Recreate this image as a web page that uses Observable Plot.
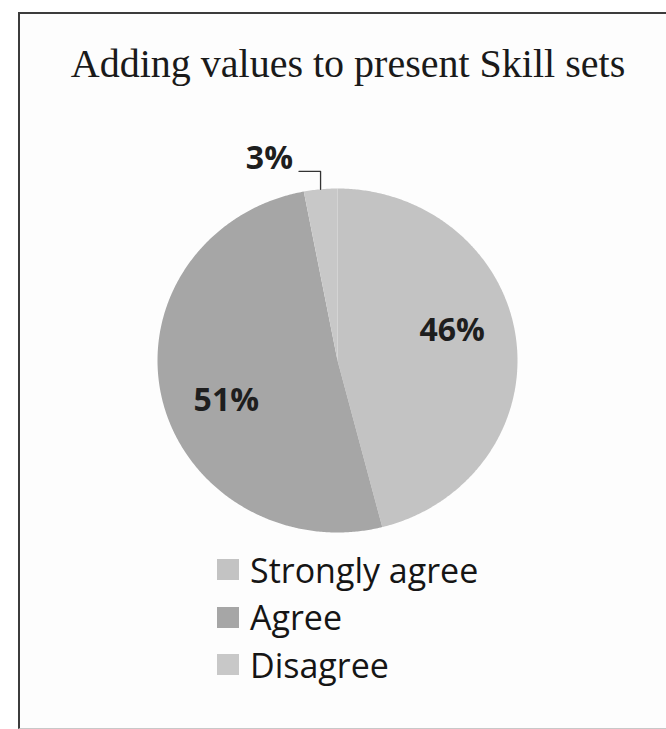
<!DOCTYPE html>
<html><head><meta charset="utf-8">
<script src="https://cdn.jsdelivr.net/npm/d3@7"></script>
<script src="https://cdn.jsdelivr.net/npm/@observablehq/plot@0.6"></script>
<style>
html,body{margin:0;padding:0;background:#fff;width:666px;height:729px;overflow:hidden;position:relative}
#frame{position:absolute;left:18px;top:12px;width:700px;height:714px;border-left:2px solid #3c3c3c;border-top:2px solid #3c3c3c;border-bottom:1px solid #c8c8c8;background:#fdfdfd}
#title{position:absolute;left:0;top:44px;width:696px;text-align:center;font-family:"Liberation Serif","Times New Roman",serif;font-size:40px;line-height:40px;color:#1a1a1a;white-space:nowrap}
#chart{position:absolute;left:0;top:140px}
#legend{position:absolute;left:217px;top:546px;font-family:"Open Sans",sans-serif;font-size:34px;color:#151515}
.row{display:flex;align-items:center;height:47.5px;white-space:nowrap}
.sw{width:22px;height:21px;margin-right:11px;flex:none}
</style></head><body>
<div id="frame"></div>
<div id="title"></div>
<div id="chart"></div>
<div id="legend"></div>
<script>
const titleText = "Adding values to present Skill sets";
const categories = ["Strongly agree", "Agree", "Disagree"];
const percents = [46, 51, 3];
const labels = ["46%", "51%", "3%"];
const colors = ["#c3c3c3", "#a6a6a6", "#c8c8c8"];

document.getElementById("title").textContent = titleText;

const data = categories.map((c, i) => ({category: c, value: percents[i], label: labels[i]}));
const arcs = d3.pie().sort(null).value(d => d.value)(data);

// slice outlines built from the pie angles
const slices = arcs.flatMap(a => {
  const c = a.data.category;
  const n = Math.max(2, Math.ceil((a.endAngle - a.startAngle) / (Math.PI / 360)));
  const pts = [{category: c, x: 0, y: 0}];
  for (let k = 0; k <= n; k++) {
    const t = a.startAngle + (a.endAngle - a.startAngle) * k / n;
    pts.push({category: c, x: Math.sin(t), y: Math.cos(t)});
  }
  pts.push({category: c, x: 0, y: 0});
  return pts;
});

const mid = a => (a.startAngle + a.endAngle) / 2;
const labelRadius = 0.66, labelTurn = -0.14;
const inside = arcs.filter(a => a.data.value >= 10).map(a => ({
  label: a.data.label,
  x: labelRadius * Math.sin(mid(a) + labelTurn),
  y: labelRadius * Math.cos(mid(a) + labelTurn)
}));
const outsideArcs = arcs.filter(a => a.data.value < 10);
const leaders = outsideArcs.flatMap(a => {
  const m = mid(a), sx = Math.sin(m), sy = Math.cos(m);
  return [
    {id: a.data.category, x: sx, y: sy},
    {id: a.data.category, x: sx, y: 1.1},
    {id: a.data.category, x: sx - 0.12, y: 1.1}
  ];
});
const outside = outsideArcs.map(a => ({label: a.data.label, x: Math.sin(mid(a)) - 0.12, y: 1.1}));

const plot = Plot.plot({
  width: 666,
  height: 420,
  marginLeft: 157,
  marginRight: 149,
  marginTop: 48,
  marginBottom: 28,
  x: {domain: [-1, 1], axis: null},
  y: {domain: [-1, 1], axis: null},
  color: {domain: categories, range: colors},
  style: {background: "transparent", overflow: "visible"},
  marks: [
    Plot.line(slices, {x: "x", y: "y", z: "category", fill: "category", stroke: "none", curve: "linear"}),
    Plot.line(leaders, {x: "x", y: "y", z: "id", stroke: "#333", strokeWidth: 1.3}),
    Plot.text(inside, {x: "x", y: "y", text: "label", fontFamily: "Open Sans", fontWeight: "bold", fontSize: 32, fill: "#1e1e1e"}),
    Plot.text(outside, {x: "x", y: "y", text: "label", textAnchor: "end", dx: -6, dy: -13, fontFamily: "Open Sans", fontWeight: "bold", fontSize: 32, fill: "#1e1e1e"})
  ]
});
document.getElementById("chart").appendChild(plot);

const color = plot.scale("color");
const legend = document.getElementById("legend");
categories.forEach((c, i) => {
  const row = document.createElement("div");
  row.className = "row";
  const sw = document.createElement("div");
  sw.className = "sw";
  sw.style.background = color.apply(c);
  const lab = document.createElement("span");
  lab.textContent = c;
  row.appendChild(sw);
  row.appendChild(lab);
  legend.appendChild(row);
});
</script>
</body></html>
